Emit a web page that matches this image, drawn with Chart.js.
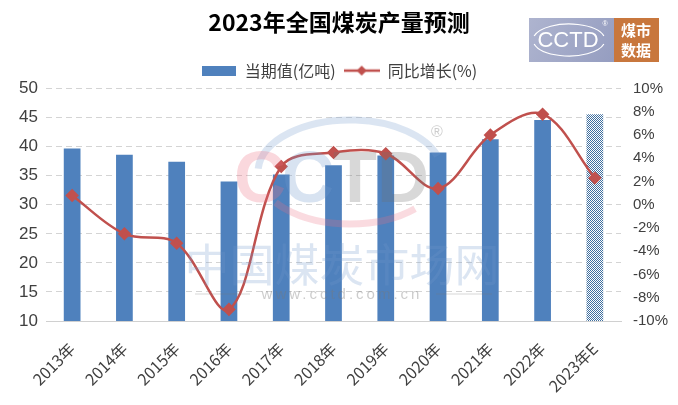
<!DOCTYPE html>
<html>
<head>
<meta charset="utf-8">
<script src="https://cdn.jsdelivr.net/npm/chart.js@4"></script>
<style>
  html, body { margin: 0; padding: 0; background: #fff; }
  #wrap { width: 678px; height: 405px; position: relative; }
</style>
</head>
<body>
<div id="wrap"><canvas id="coal"></canvas></div>
<script>
const years = ['2013年', '2014年', '2015年', '2016年', '2017年', '2018年', '2019年', '2020年', '2021年', '2022年', '2023年E'];
const output = [39.7, 38.6, 37.4, 34.0, 35.2, 36.8, 38.5, 39.0, 41.3, 44.6, 45.6];
const growth = [0.8, -2.5, -3.3, -9.0, 3.3, 4.5, 4.4, 1.4, 6.0, 7.8, 2.3];

const BLUE = '#4f81bd';
const RED = '#c0504d';
const CN = '"Noto Sans CJK SC", "Liberation Sans", sans-serif';
const NUM = '"Liberation Sans", "Noto Sans CJK SC", sans-serif';

// checker pattern for the forecast bar
function makePattern() {
  const c = document.createElement('canvas');
  c.width = 2; c.height = 2;
  const g = c.getContext('2d');
  g.fillStyle = '#ffffff';
  g.fillRect(0, 0, 2, 2);
  g.fillStyle = '#3f6f9f';
  g.fillRect(0, 0, 1, 1);
  g.fillRect(1, 1, 1, 1);
  return g.createPattern(c, 'repeat');
}
const barColors = output.map((v, i) => i === output.length - 1 ? makePattern() : BLUE);

// legend icons
const barIcon = document.createElement('canvas');
barIcon.width = 34; barIcon.height = 10;
let bctx = barIcon.getContext('2d');
bctx.fillStyle = BLUE; bctx.fillRect(0, 0, 34, 10);

const lineIcon = document.createElement('canvas');
lineIcon.width = 36; lineIcon.height = 12;
let lctx = lineIcon.getContext('2d');
lctx.strokeStyle = RED; lctx.lineWidth = 2.5;
lctx.beginPath(); lctx.moveTo(0, 6); lctx.lineTo(36, 6); lctx.stroke();
lctx.fillStyle = RED;
lctx.beginPath(); lctx.moveTo(18, 1); lctx.lineTo(23, 6); lctx.lineTo(18, 11); lctx.lineTo(13, 6); lctx.closePath(); lctx.fill();

// faint site watermark + corner logo
const decor = {
  id: 'decor',
  afterDatasetsDraw(chart) {
    const ctx = chart.ctx;
    ctx.save();
    // ring
    ctx.lineWidth = 7;
    ctx.strokeStyle = 'rgba(110,150,205,0.25)';
    ctx.beginPath(); ctx.ellipse(350, 172, 92, 52, 0, Math.PI * 1.02, Math.PI * 1.9); ctx.stroke();
    ctx.strokeStyle = 'rgba(235,110,130,0.25)';
    ctx.beginPath(); ctx.ellipse(350, 172, 92, 52, 0, Math.PI * 0.25, Math.PI * 0.8); ctx.stroke();
    ctx.font = 'bold 72px ' + NUM;
    ctx.textBaseline = 'alphabetic';
    ctx.fillStyle = 'rgba(235,110,130,0.27)';
    ctx.fillText('C', 234, 202);
    ctx.fillStyle = 'rgba(110,150,205,0.27)';
    ctx.fillText('C', 282, 202);
    ctx.fillStyle = 'rgba(110,110,110,0.27)';
    ctx.fillText('TD', 333, 202);
    ctx.font = '16px ' + NUM;
    ctx.fillStyle = 'rgba(130,130,130,0.4)';
    ctx.fillText('®', 431, 137);
    ctx.font = '45px ' + CN;
    ctx.textAlign = 'center';
    ctx.fillStyle = 'rgba(110,150,205,0.25)';
    ctx.fillText('中国煤炭市场网', 342, 282);
    ctx.font = '15px ' + NUM;
    ctx.letterSpacing = '3px';
    ctx.fillStyle = 'rgba(120,120,120,0.38)';
    ctx.fillText('www.cctd.com.cn', 342, 299);
    ctx.letterSpacing = '0px';
    ctx.strokeStyle = 'rgba(120,120,120,0.3)'; ctx.lineWidth = 1;
    ctx.beginPath(); ctx.moveTo(195, 294); ctx.lineTo(250, 294); ctx.moveTo(436, 294); ctx.lineTo(492, 294); ctx.stroke();
    ctx.restore();

    // top-right brand box
    ctx.save();
    const gr = ctx.createLinearGradient(529, 18, 614, 62);
    gr.addColorStop(0, '#aeb4cf');
    gr.addColorStop(1, '#959dc0');
    ctx.fillStyle = gr;
    ctx.fillRect(529, 18, 85, 44);
    ctx.fillStyle = '#c8773d';
    ctx.fillRect(614, 18, 45, 44);
    ctx.strokeStyle = '#ffffff'; ctx.lineWidth = 1.2;
    ctx.beginPath(); ctx.ellipse(569, 40, 36, 16, 0, Math.PI * 1.08, Math.PI * 1.92); ctx.stroke();
    ctx.beginPath(); ctx.ellipse(569, 40, 36, 16, 0, Math.PI * 0.08, Math.PI * 0.92); ctx.stroke();
    ctx.font = '22px ' + NUM;
    ctx.fillStyle = '#ffffff';
    ctx.textAlign = 'center'; ctx.textBaseline = 'middle';
    ctx.fillText('CCTD', 568, 41);
    ctx.font = '7px ' + NUM;
    ctx.fillText('®', 605, 24);
    ctx.font = 'bold 15px ' + CN;
    ctx.fillText('煤市', 636, 30);
    ctx.fillText('数据', 636, 50);
    ctx.restore();
  }
};

new Chart(document.getElementById('coal').getContext('2d'), {
  type: 'bar',
  data: {
    labels: years,
    datasets: [
      {
        label: '当期值(亿吨)',
        data: output,
        backgroundColor: barColors,
        barPercentage: 0.64,
        categoryPercentage: 0.5,
        yAxisID: 'y',
        order: 2
      },
      {
        type: 'line',
        label: '同比增长(%)',
        data: growth,
        borderColor: RED,
        backgroundColor: RED,
        borderWidth: 2.5,
        tension: 0.35,
        pointStyle: 'rectRot',
        pointRadius: 5,
        pointHoverRadius: 5,
        yAxisID: 'y1',
        order: 1
      }
    ]
  },
  options: {
    responsive: true,
    maintainAspectRatio: false,
    animation: false,
    layout: { padding: { left: 0, right: 0, top: 0, bottom: 0 } },
    plugins: {
      title: {
        display: true,
        text: '2023年全国煤炭产量预测',
        color: '#000',
        font: { family: CN, size: 23, weight: 'bold' },
        padding: { top: 8, bottom: 19 }
      },
      legend: {
        position: 'top',
        labels: {
          usePointStyle: true,
          pointStyleWidth: 36,
          color: '#404040',
          font: { family: CN, size: 16 },
          padding: 8,
          generateLabels: () => [
            { text: '当期值(亿吨)', pointStyle: barIcon, fillStyle: BLUE, strokeStyle: BLUE, lineWidth: 0, datasetIndex: 0, fontColor: '#404040' },
            { text: '同比增长(%)', pointStyle: lineIcon, fillStyle: RED, strokeStyle: RED, lineWidth: 0, datasetIndex: 1, fontColor: '#404040' }
          ]
        }
      },
      tooltip: { enabled: false }
    },
    scales: {
      x: {
        grid: { display: false },
        border: { display: true, color: '#d0d0d0' },
        ticks: {
          color: '#404040',
          font: { family: CN, size: 16 },
          maxRotation: 45,
          minRotation: 45,
          padding: 10,
          autoSkip: false
        },
        afterFit: s => { s.height = 84; }
      },
      y: {
        position: 'left',
        min: 10,
        max: 50,
        ticks: { stepSize: 5, color: '#404040', font: { family: NUM, size: 17 }, padding: 8 },
        grid: { color: '#d4d4d4', drawTicks: false },
        border: { display: false, dash: [6, 4] },
        afterFit: s => { s.width = 46; }
      },
      y1: {
        position: 'right',
        min: -10,
        max: 10,
        ticks: { stepSize: 2, color: '#404040', font: { family: NUM, size: 15 }, padding: 12, callback: v => v + '%' },
        grid: { display: false, drawTicks: false },
        border: { display: false },
        afterFit: s => { s.width = 57; }
      }
    }
  },
  plugins: [decor]
});
</script>
</body>
</html>
